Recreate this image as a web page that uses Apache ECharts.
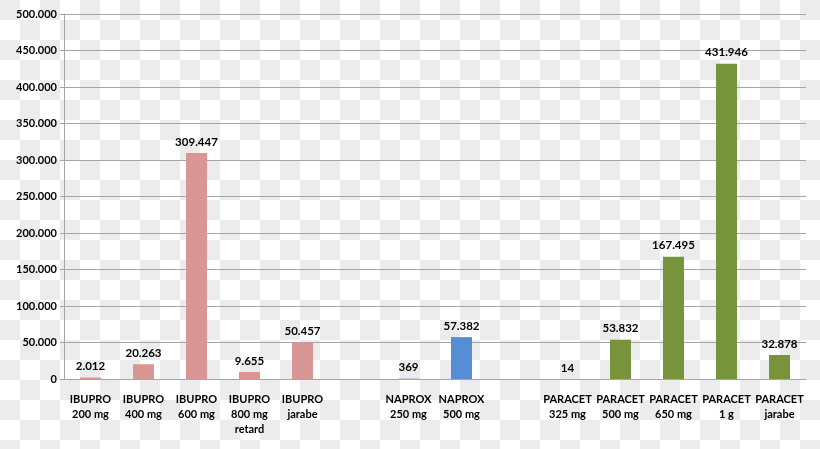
<!DOCTYPE html>
<html>
<head>
<meta charset="utf-8">
<script src="https://cdn.jsdelivr.net/npm/echarts@6/dist/echarts.min.js"></script>
<style>
  html, body { margin: 0; padding: 0; }
  body {
    width: 820px; height: 449px;
    background-color: #ffffff;
    background-image:
      linear-gradient(45deg, #ececec 25%, transparent 25%, transparent 75%, #ececec 75%),
      linear-gradient(45deg, #ececec 25%, transparent 25%, transparent 75%, #ececec 75%);
    background-size: 40px 40px;
    background-position: 20px 0, 0 20px;
  }
  #chart { width: 820px; height: 449px; }
</style>
</head>
<body>
<div id="chart"></div>
<script>
// categories (blank ones are the gaps between groups)
const categories = [
  'IBUPRO\n200 mg', 'IBUPRO\n400 mg', 'IBUPRO\n600 mg', 'IBUPRO\n800 mg\nretard', 'IBUPRO\njarabe',
  '',
  'NAPROX\n250 mg', 'NAPROX\n500 mg',
  '',
  'PARACET\n325 mg', 'PARACET\n500 mg', 'PARACET\n650 mg', 'PARACET\n1 g', 'PARACET\njarabe'
]
const groups = [
  'ibupro', 'ibupro', 'ibupro', 'ibupro', 'ibupro',
  null,
  'naprox', 'naprox',
  null,
  'paracet', 'paracet', 'paracet', 'paracet', 'paracet'
]
const values = [2012, 20263, 309447, 9655, 50457, null, 369, 57382, null, 14, 53832, 167495, 431946, 32878]

const groupColors = { ibupro: '#d99694', naprox: '#558ed5', paracet: '#77933c' }

// miles con punto
const fmt = (v) => String(v).replace(/\B(?=(\d{3})+(?!\d))/g, '.')

const chart = echarts.init(document.getElementById('chart'))

const labelFont = { fontFamily: 'Lato', fontWeight: 'bold', fontSize: 11, color: '#000' }

chart.setOption({
  animation: false,
  grid: { left: 64, right: 14, top: 14, bottom: 70 },
  xAxis: {
    type: 'category',
    data: categories,
    axisLine: { lineStyle: { color: '#a6a6a6' } },
    axisTick: { length: 5, lineStyle: { color: '#a6a6a6' } },
    axisLabel: { ...labelFont, margin: 13, lineHeight: 15, interval: 0 }
  },
  yAxis: {
    type: 'value',
    min: 0,
    max: 500000,
    interval: 50000,
    axisLine: { show: true, lineStyle: { color: '#a6a6a6' } },
    axisTick: { show: true, length: 4, lineStyle: { color: '#a6a6a6' } },
    splitLine: { lineStyle: { color: '#a6a6a6' } },
    axisLabel: { ...labelFont, margin: 7, formatter: fmt }
  },
  series: [
    {
      type: 'bar',
      data: values,
      barWidth: 21,
      itemStyle: {
        color: (p) => groupColors[groups[p.dataIndex]] || '#999'
      },
      label: {
        show: true,
        position: 'top',
        distance: 5,
        ...labelFont,
        fontSize: 11.5,
        formatter: (p) => fmt(p.value)
      }
    }
  ]
})
</script>
</body>
</html>
